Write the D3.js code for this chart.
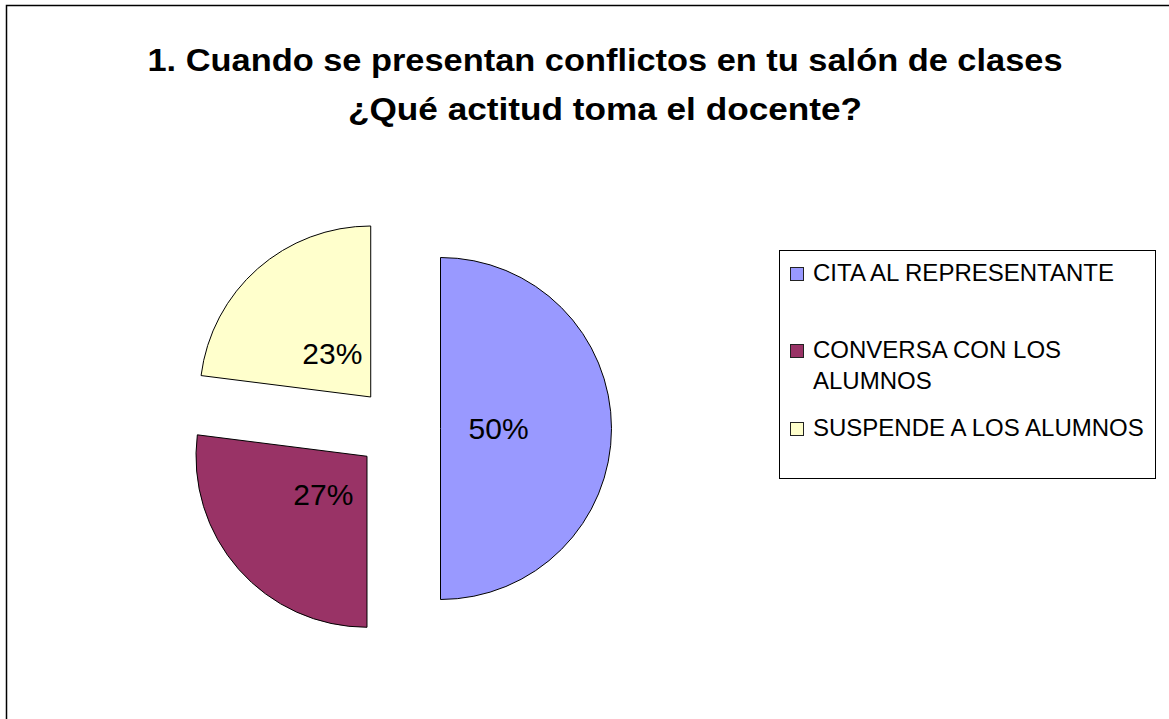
<!DOCTYPE html>
<html>
<head>
<meta charset="utf-8">
<script src="https://cdn.jsdelivr.net/npm/d3@7"></script>
<style>
  body { margin: 0; background: #fff; }
  svg { display: block; font-family: "Liberation Sans", Arial, sans-serif; }
</style>
</head>
<body>
<svg id="chart"></svg>
<script>
// Chart data
const titleLines = ["1. Cuando se presentan conflictos en tu salón de clases", "¿Qué actitud toma el docente?"];
const titleWidths = [915, 514];
const categories = ["CITA AL REPRESENTANTE", "CONVERSA CON LOS ALUMNOS", "SUSPENDE A LOS ALUMNOS"];
const values = [50, 27, 23];
const valueLabels = ["50%", "27%", "23%"];
const colors = ["#9999FF", "#993366", "#FFFFCC"];

const width = 1169;
const height = 719;

const svg = d3.select("#chart")
    .attr("width", width)
    .attr("height", height);

// outer chart border (right and bottom fall outside the view)
svg.append("rect")
    .attr("x", 6.5)
    .attr("y", 5.5)
    .attr("width", width + 20)
    .attr("height", height + 20)
    .attr("fill", "#fff")
    .attr("stroke", "#000")
    .attr("stroke-width", 1.5);

// Title (the original is stretched a bit horizontally)
svg.selectAll(".title")
    .data(titleLines)
    .enter().append("text")
    .attr("class", "title")
    .attr("x", 605)
    .attr("y", (d, i) => 71 + i * 49)
    .attr("text-anchor", "middle")
    .attr("font-size", 32)
    .attr("font-weight", "bold")
    .attr("textLength", (d, i) => titleWidths[i])
    .attr("lengthAdjust", "spacingAndGlyphs")
    .text(d => d);

// Pie
const cx = 398.5, cy = 428.5, radius = 171, explode = 42;

const pie = d3.pie().sort(null).startAngle(0).endAngle(2 * Math.PI);
const arcs = pie(values);
const arc = d3.arc().innerRadius(0).outerRadius(radius);
const labelArc = d3.arc().innerRadius(0).outerRadius(radius * 0.68);

const pieGroup = svg.append("g")
    .attr("transform", `translate(${cx},${cy})`);

const slices = pieGroup.selectAll(".slice")
    .data(arcs)
    .enter().append("g")
    .attr("class", "slice")
    .attr("transform", d => {
      const mid = (d.startAngle + d.endAngle) / 2;
      return `translate(${Math.sin(mid) * explode},${-Math.cos(mid) * explode})`;
    });

slices.append("path")
    .attr("d", arc)
    .attr("fill", (d, i) => colors[i])
    .attr("stroke", "#000")
    .attr("stroke-width", 1);

slices.append("text")
    .attr("transform", d => `translate(${labelArc.centroid(d)})`)
    .attr("text-anchor", "middle")
    .attr("dy", "0.35em")
    .attr("font-size", 30)
    .attr("fill", "#000")
    .text((d, i) => valueLabels[i]);

// Legend
const legend = svg.append("g");
legend.append("rect")
    .attr("x", 779.5)
    .attr("y", 250.5)
    .attr("width", 376)
    .attr("height", 228)
    .attr("fill", "#fff")
    .attr("stroke", "#000")
    .attr("stroke-width", 1);

const rowBaselines = [281, 358, 436];
const lineGap = 31;
const maxTextWidth = 340;

categories.forEach((name, i) => {
  legend.append("rect")
      .attr("x", 790.5)
      .attr("y", rowBaselines[i] - 13.5)
      .attr("width", 13)
      .attr("height", 13)
      .attr("fill", colors[i])
      .attr("stroke", "#222")
      .attr("stroke-width", 1);

  const text = legend.append("text")
      .attr("x", 813)
      .attr("y", rowBaselines[i])
      .attr("font-size", 24)
      .attr("fill", "#000");

  // simple word wrap
  const words = name.split(" ");
  let line = [];
  let tspan = text.append("tspan").attr("x", 813).attr("dy", 0);
  words.forEach(w => {
    line.push(w);
    tspan.text(line.join(" "));
    if (tspan.node().getComputedTextLength() > maxTextWidth && line.length > 1) {
      line.pop();
      tspan.text(line.join(" "));
      line = [w];
      tspan = text.append("tspan").attr("x", 813).attr("dy", lineGap).text(w);
    }
  });
});
</script>
</body>
</html>
